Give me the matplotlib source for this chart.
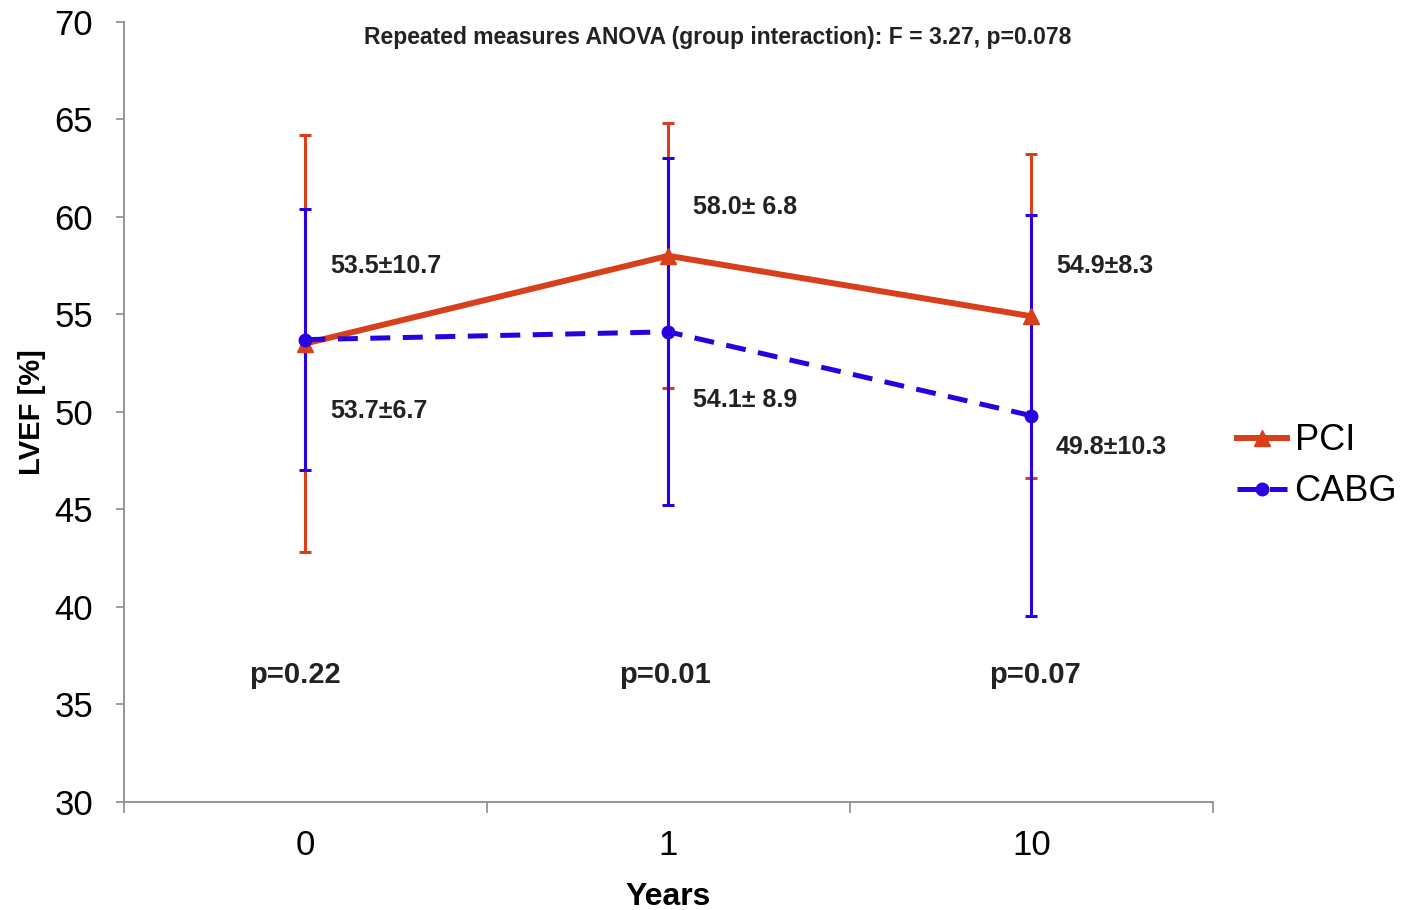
import matplotlib.pyplot as plt
import numpy as np

plt.rcParams['font.family'] = ['Liberation Sans', 'DejaVu Sans']

# data
years = ["0", "1", "10"]
pci_mean = [53.5, 58.0, 54.9]
pci_sd = [10.7, 6.8, 8.3]
cabg_mean = [53.7, 54.1, 49.8]
cabg_sd = [6.7, 8.9, 10.3]
pci_labels = ["53.5\u00b110.7", "58.0\u00b1 6.8", "54.9\u00b18.3"]
cabg_labels = ["53.7\u00b16.7", "54.1\u00b1 8.9", "49.8\u00b110.3"]
p_values = ["p=0.22", "p=0.01", "p=0.07"]
title = "Repeated measures ANOVA (group interaction): F = 3.27, p=0.078"

red = "#d8401c"
blue = "#2a00e0"
grey = "#8c8c8c"

fig = plt.figure(figsize=(14.07, 9.10), dpi=100)
ax = fig.add_axes([0.088, 0.119, 0.774, 0.857])

x = np.arange(len(years))

# --- error bars first, PCI under CABG ---
ax.errorbar(x, pci_mean, yerr=pci_sd, fmt="none", ecolor=red, elinewidth=2.2,
            capsize=4, capthick=2.2, zorder=2)
ax.errorbar(x, cabg_mean, yerr=cabg_sd, fmt="none", ecolor=blue, elinewidth=2.2,
            capsize=4, capthick=2.2, zorder=3)

# --- lines ---
ax.plot(x, pci_mean, color=red, lw=4.3, marker="^", ms=11, label="PCI", zorder=4)
ax.plot(x, cabg_mean, color=blue, lw=3.6, ls=(0, (4, 2.5)), marker="o", ms=9,
        label="CABG", zorder=5)

# --- annotations ---
pci_lab_y = [57.5, 60.5, 57.5]
cabg_lab_y = [50.05, 50.6, 48.2]
for i in range(len(years)):
    ax.text(x[i] + 0.068, pci_lab_y[i], pci_labels[i], fontsize=18,
            fontweight="bold", va="center", ha="left", color="#222222")
    ax.text(x[i] + 0.068, cabg_lab_y[i], cabg_labels[i], fontsize=18,
            fontweight="bold", va="center", ha="left", color="#222222")
    ax.text(x[i] - 0.03 + 0.02 * i, 36.5, p_values[i], fontsize=21,
            fontweight="bold", va="center", ha="center", color="#222222")

ax.text(0.545, 69.2, title, transform=ax.get_yaxis_transform(), fontsize=16.5,
        fontweight="bold", ha="center", va="center", color="#222222")

# --- axes ---
ax.set_xlim(-0.5, 2.5)
ax.set_ylim(30, 70)
ax.set_yticks(np.arange(30, 71, 5))
ax.set_xticks(x)
ax.set_xticklabels(years)
ax.set_xticks(np.arange(-0.5, 2.6, 1), minor=True)
ax.tick_params(axis="x", which="major", length=0, pad=20, labelsize=25)
ax.tick_params(axis="x", which="minor", length=8, width=1.2, color=grey)
ax.tick_params(axis="y", length=6, width=1.2, color=grey, labelsize=25, pad=16)

for s in ["top", "right"]:
    ax.spines[s].set_visible(False)
for s in ["left", "bottom"]:
    ax.spines[s].set_color(grey)
    ax.spines[s].set_linewidth(1.3)

ax.set_xlabel("Years", fontsize=23, fontweight="bold", labelpad=14)
ax.set_ylabel("LVEF [%]", fontsize=21, fontweight="bold", labelpad=6)

leg = ax.legend(loc="center left", bbox_to_anchor=(1.022, 0.43), frameon=False,
                fontsize=26, handlelength=1.4, handletextpad=0.2, labelspacing=0.45,
                borderpad=0, borderaxespad=0)

fig.savefig("out.png", dpi=100)
